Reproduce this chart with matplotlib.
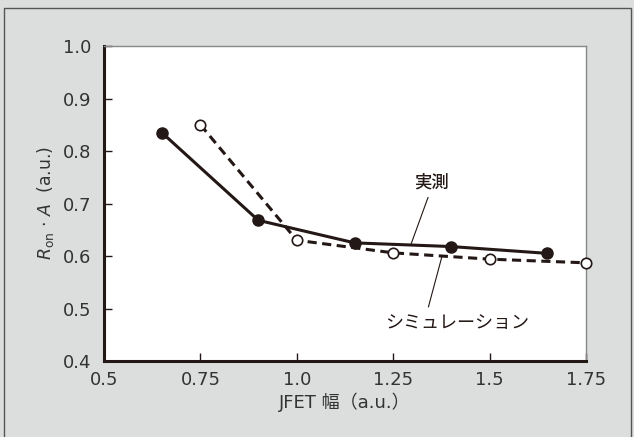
import matplotlib
matplotlib.use('Agg')
from matplotlib import pyplot as plt
from matplotlib.patches import Rectangle

plt.rcParams['font.family'] = ['DejaVu Sans', 'Noto Sans CJK JP']
plt.rcParams['mathtext.fontset'] = 'custom'
plt.rcParams['mathtext.it'] = 'DejaVu Sans:italic'
plt.rcParams['mathtext.rm'] = 'DejaVu Sans'

# measured (filled) and simulation (open)
x_meas = [0.65, 0.90, 1.15, 1.40, 1.65]
y_meas = [0.835, 0.668, 0.625, 0.618, 0.605]
x_sim = [0.75, 1.00, 1.25, 1.50, 1.75]
y_sim = [0.850, 0.630, 0.606, 0.594, 0.587]

xticks = [0.5, 0.75, 1.0, 1.25, 1.5, 1.75]
xtick_labels = ['0.5', '0.75', '1.0', '1.25', '1.5', '1.75']
yticks = [0.4, 0.5, 0.6, 0.7, 0.8, 0.9, 1.0]

bg = '#dcdddd'
ink = '#231815'
txt = '#333333'
jp = ['Noto Sans CJK JP', 'DejaVu Sans']

fig = plt.figure(figsize=(6.34, 4.37), dpi=100, facecolor=bg)
fig.patches.append(Rectangle((4/634, -0.01), 627/634, 1 - 8/437 + 0.01,
                             transform=fig.transFigure, fill=False,
                             edgecolor='#555555', linewidth=1.0))
ax = fig.add_axes([104/634, 1 - 361/437, (586 - 104)/634, (361 - 46)/437])
ax.set_facecolor('white')

ax.plot(x_sim, y_sim, linestyle=(0, (3.0, 1.8)), color=ink, linewidth=2.2,
        marker='o', markersize=7.5, markerfacecolor='white',
        markeredgecolor=ink, markeredgewidth=1.2, clip_on=False, zorder=3)
ax.plot(x_meas, y_meas, linestyle='-', color=ink, linewidth=2.2,
        marker='o', markersize=8, markerfacecolor=ink,
        markeredgecolor=ink, clip_on=False, zorder=4)

ax.set_xlim(0.5, 1.75)
ax.set_ylim(0.4, 1.0)
ax.set_xticks(xticks)
ax.set_xticklabels(xtick_labels)
ax.set_yticks(yticks)
ax.set_yticklabels(['%.1f' % v for v in yticks])

for s in ['left', 'bottom']:
    ax.spines[s].set_linewidth(2.2)
    ax.spines[s].set_color(ink)
for s in ['top', 'right']:
    ax.spines[s].set_linewidth(1.0)
    ax.spines[s].set_color('#888888')

ax.tick_params(direction='in', length=6, width=1.0, color=ink,
               labelsize=13, labelcolor=txt)
ax.tick_params(axis='y', pad=9)
ax.tick_params(axis='x', pad=7)

ax.set_xlabel('JFET 幅（a.u.）', fontsize=13, color=txt, labelpad=3)
ax.set_ylabel(r'$\mathit{R}_{\mathrm{on}}$ · $\mathit{A}$  (a.u.)',
              fontsize=12.5, color=txt, labelpad=5)

# leader-line labels
ax.annotate('実測', xy=(1.296, 0.622), xytext=(1.35, 0.722),
            fontsize=12.5, color=ink, ha='center', va='bottom', family=jp,
            weight='medium',
            arrowprops=dict(arrowstyle='-', color=ink, linewidth=0.8,
                            shrinkA=2, shrinkB=0, relpos=(0.45, 0)))
ax.annotate('シミュレーション', xy=(1.376, 0.598), xytext=(1.415, 0.49),
            fontsize=13, color=ink, ha='center', va='top', family=jp,
            arrowprops=dict(arrowstyle='-', color=ink, linewidth=0.8,
                            shrinkA=3, shrinkB=0, relpos=(0.29, 1)))

plt.savefig('out.png', dpi=100, facecolor=bg)
